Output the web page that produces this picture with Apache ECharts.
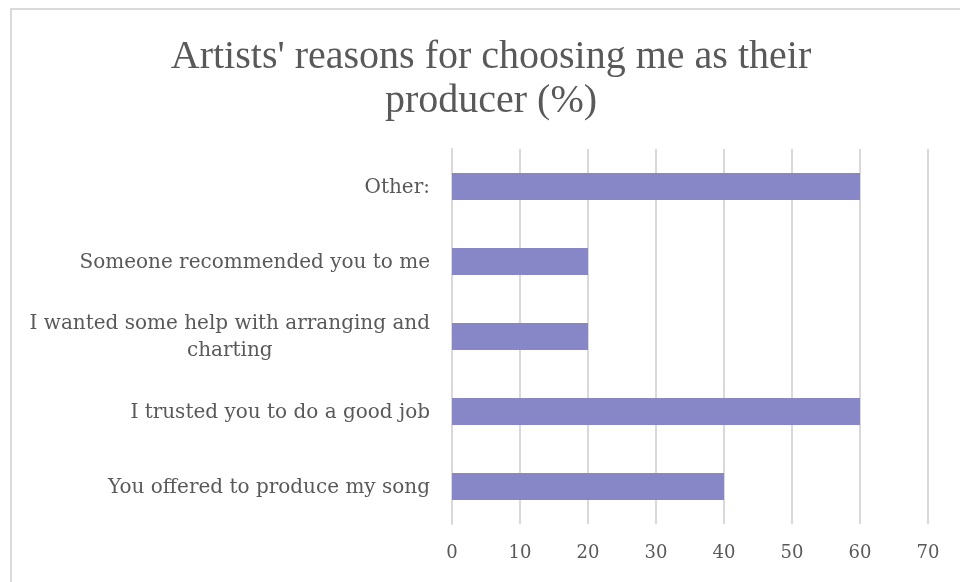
<!DOCTYPE html>
<html>
<head>
<meta charset="utf-8">
<script src="https://cdn.jsdelivr.net/npm/echarts@6/dist/echarts.min.js"></script>
<style>
  html, body { margin: 0; padding: 0; background: #fff; }
  #chart { width: 960px; height: 582px; }
</style>
</head>
<body>
<div id="chart"></div>
<script>
// Survey answers, listed bottom to top as drawn on the category axis
const categories = [
  'You offered to produce my song',
  'I trusted you to do a good job',
  'I wanted some help with arranging and charting',
  'Someone recommended you to me',
  'Other:'
];
const percentValues = [40, 60, 20, 20, 60];
const xTicks = [0, 10, 20, 30, 40, 50, 60, 70];
const titleLines = ["Artists' reasons for choosing me as their", 'producer (%)'];

// Long labels are split at a fixed point and centred under each other
const labelBreaks = {
  'I wanted some help with arranging and charting': ['I wanted some help with arranging and', 'charting']
};

const textColor = '#595959';
const titleFont = 'Liberation Serif';
const labelFont = 'DejaVu Serif';

const chart = echarts.init(document.getElementById('chart'), null, { renderer: 'canvas' });

chart.setOption({
  backgroundColor: '#ffffff',
  animation: false,
  title: {
    text: titleLines.join('\n'),
    left: 486,
    top: 30,
    textAlign: 'center',
    textStyle: {
      fontFamily: titleFont,
      fontWeight: 'normal',
      fontSize: 40,
      lineHeight: 44,
      color: textColor
    }
  },
  graphic: [{
    type: 'rect',
    shape: { x: 11, y: 9, width: 1000, height: 700 },
    style: { fill: 'none', stroke: '#d9d9d9', lineWidth: 2 },
    silent: true,
    z: -1
  }],
  grid: { left: 452, right: 32, top: 149, bottom: 58, containLabel: false },
  xAxis: {
    type: 'value',
    min: xTicks[0],
    max: xTicks[xTicks.length - 1],
    interval: xTicks[1] - xTicks[0],
    axisLine: { show: false },
    axisTick: { show: false },
    splitLine: { show: true, lineStyle: { color: '#d9d9d9', width: 2 } },
    axisLabel: {
      color: textColor,
      fontFamily: labelFont,
      fontSize: 18,
      margin: 20
    }
  },
  yAxis: {
    type: 'category',
    data: categories,
    axisLine: { show: true, lineStyle: { color: '#d9d9d9', width: 2 } },
    axisTick: { show: false },
    splitLine: { show: false },
    axisLabel: {
      color: textColor,
      fontFamily: labelFont,
      fontSize: 20,
      margin: 22,
      formatter: function (v) {
        const parts = labelBreaks[v] || [v];
        return parts.map(function (p) { return '{c|' + p + '}'; }).join('\n');
      },
      rich: {
        c: {
          align: 'center',
          color: textColor,
          fontFamily: labelFont,
          fontSize: 20,
          lineHeight: 27,
          padding: [2, 0, 0, 0]
        }
      }
    }
  },
  series: [{
    type: 'bar',
    data: percentValues,
    barWidth: '36%',
    itemStyle: { color: '#8786c6' },
    silent: true
  }]
});
</script>
</body>
</html>
